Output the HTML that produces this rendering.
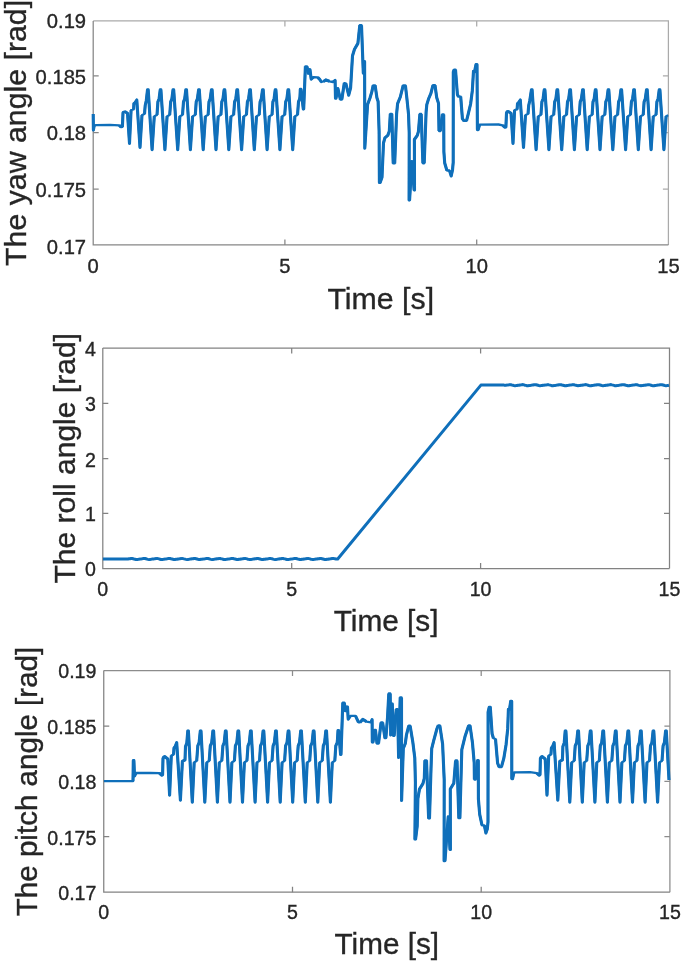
<!DOCTYPE html>
<html lang="en">
<head>
<meta charset="utf-8">
<title>Yaw, roll and pitch angles</title>
<style>
html,body{margin:0;padding:0;background:#fff;}
body{width:685px;height:964px;overflow:hidden;}
svg{display:block;filter:blur(0.3px);font-family:"Liberation Sans",sans-serif;}
text{stroke:#262626;stroke-width:0.35px;}
</style>
</head>
<body>
<svg width="685" height="964" viewBox="0 0 685 964">
<rect width="685" height="964" fill="#ffffff"/>
<g fill="none" stroke-width="1.25">
<path d="M93.2,20.9H668.4V244.9" stroke="#aaaaaa"/>
<path d="M284.9,20.9v5.5 M476.7,20.9v5.5 M668.4,75.8h-5.5 M668.4,132.6h-5.5 M668.4,189.2h-5.5" stroke="#aaaaaa"/>
<path d="M93.2,20.9V244.9H668.4" stroke="#868686"/>
<path d="M284.9,244.9v-5.5 M476.7,244.9v-5.5 M93.2,75.8h5.5 M93.2,132.6h5.5 M93.2,189.2h5.5" stroke="#868686"/>
</g>
<g fill="none" stroke="#0f6fba" stroke-linejoin="round" stroke-linecap="butt"><polyline points="93.2,114.0 93.4,130.0 94.2,125.6 96.0,125.1 110.0,124.9 119.2,125.3 121.2,127.2 122.4,126.9 123.0,113.0 123.6,111.8 124.8,111.5 127.5,113.2 129.5,143.4 131.1,110.0 133.6,109.4 133.9,103.7 134.9,102.8 136.8,100.0 140.0,147.4 142.0,115.0 144.5,114.0 145.2,105.5 146.3,100.5 147.5,89.9 148.2,89.9 152.1,149.7 154.3,116.2 157.0,115.0 157.9,101.8 159.1,98.8 160.2,89.9 160.9,89.9 164.9,149.7 167.1,116.2 169.7,115.0 170.7,101.8 171.9,98.8 173.0,89.9 173.7,89.9 177.7,149.7 179.9,116.2 182.5,115.0 183.5,101.8 184.7,98.8 185.8,89.9 186.5,89.9 190.4,149.7 192.6,116.2 195.3,115.0 196.2,101.8 197.4,98.8 198.6,89.9 199.3,89.9 203.2,149.7 205.4,116.2 208.1,115.0 209.0,101.8 210.2,98.8 211.4,89.9 212.1,89.9 216.0,149.7 218.2,116.2 220.9,115.0 221.8,101.8 223.0,98.8 224.1,89.9 224.8,89.9 228.8,149.7 231.0,116.2 233.6,115.0 234.6,101.8 235.8,98.8 236.9,89.9 237.6,89.9 241.6,149.7 243.8,116.2 246.4,115.0 247.4,101.8 248.6,98.8 249.7,89.9 250.4,89.9 254.3,149.7 256.5,116.2 259.2,115.0 260.1,101.8 261.3,98.8 262.5,89.9 263.2,89.9 267.1,149.7 269.3,116.2 272.0,115.0 272.9,101.8 274.1,98.8 275.2,89.9 275.9,89.9 279.9,149.7 282.1,116.2 284.7,115.0 285.7,101.8 286.9,98.8 288.0,89.9 288.7,89.9 292.7,149.7 294.9,116.2 297.5,115.0 298.5,101.8 299.7,98.8 300.0,96.3 300.3,89.4 301.0,89.4 303.3,109.0 303.7,109.0 305.4,66.4 307.0,66.4 308.2,73.3 309.5,69.6 310.0,69.8 311.2,79.1 313.4,77.2 317.7,77.4 319.5,79.2 321.4,82.0 323.5,81.5 325.8,79.9 329.4,81.3 333.1,82.0 335.1,80.5 335.5,98.1 336.0,98.1 337.9,88.6 340.4,99.6 341.8,99.6 344.3,83.1 345.8,83.3 348.7,95.2 350.6,87.9 352.5,55.8 354.5,49.2 357.9,43.4 359.8,25.2 361.5,25.2 363.3,73.3 364.6,61.6 364.8,148.2 367.6,104.5 370.0,98.0 371.8,91.9 373.2,85.3 375.1,85.3 376.9,97.7 378.1,101.4 379.1,131.3 379.4,182.4 380.2,182.4 382.0,177.3 383.5,143.0 384.9,137.9 387.8,135.4 389.3,131.3 390.3,113.8 391.8,113.8 393.2,163.4 394.7,163.4 396.6,113.8 397.6,103.6 400.3,97.0 403.2,85.3 405.4,85.3 406.8,97.7 408.5,113.8 409.2,132.8 409.1,200.0 409.6,200.0 411.9,161.5 414.1,190.0 414.5,190.0 414.4,139.5 417.3,135.4 418.4,131.6 419.9,114.0 421.2,114.0 422.9,163.3 424.2,163.3 426.1,112.0 426.8,104.6 428.7,98.5 430.9,93.4 433.0,85.2 435.0,85.2 436.7,97.5 438.5,103.4 439.0,131.0 440.3,131.0 442.3,114.4 443.7,114.4 443.9,152.0 444.7,163.0 446.9,170.5 449.5,170.5 451.2,176.0 452.5,170.0 453.2,162.4 453.3,72.0 454.1,69.7 455.5,69.7 457.4,94.5 458.5,96.7 460.7,96.7 462.4,118.6 463.9,120.8 466.5,120.8 468.2,114.2 470.6,104.0 472.3,90.9 473.5,71.2 474.5,71.9 476.0,64.6 477.0,64.6 477.4,129.6 478.2,129.6 479.6,124.7 498.6,124.5 502.7,125.3 504.7,127.2 505.9,126.9 506.5,113.0 507.1,111.8 508.3,111.5 511.0,113.2 513.0,143.4 514.6,110.0 517.1,109.4 517.5,103.7 518.4,102.8 520.3,100.0 523.5,147.4 525.5,115.0 528.0,114.0 528.7,105.5 529.8,100.5 531.4,89.9 532.1,89.9 536.1,149.7 538.3,116.2 540.9,115.0 541.9,101.8 543.1,98.8 544.2,89.9 544.9,89.9 548.9,149.7 551.1,116.2 553.7,115.0 554.7,101.8 555.9,98.8 557.0,89.9 557.7,89.9 561.7,149.7 563.9,116.2 566.5,115.0 567.5,101.8 568.7,98.8 569.8,89.9 570.5,89.9 574.4,149.7 576.6,116.2 579.3,115.0 580.2,101.8 581.4,98.8 582.6,89.9 583.3,89.9 587.2,149.7 589.4,116.2 592.1,115.0 593.0,101.8 594.2,98.8 595.3,89.9 596.0,89.9 600.0,149.7 602.2,116.2 604.8,115.0 605.8,101.8 607.0,98.8 608.1,89.9 608.8,89.9 612.8,149.7 615.0,116.2 617.6,115.0 618.6,101.8 619.8,98.8 620.9,89.9 621.6,89.9 625.6,149.7 627.8,116.2 630.4,115.0 631.4,101.8 632.6,98.8 633.7,89.9 634.4,89.9 638.3,149.7 640.5,116.2 643.2,115.0 644.1,101.8 645.3,98.8 646.5,89.9 647.2,89.9 651.1,149.7 653.3,116.2 656.0,115.0 656.9,101.8 658.1,98.8 659.2,89.9 659.9,89.9 663.9,149.7 666.1,116.2 668.2,115.2" stroke-width="2.3"/>
<polyline points="93.2,114.0 93.4,130.0 94.2,125.6" stroke-width="3.1"/>
<polyline points="119.2,125.3 121.2,127.2" stroke-width="3.1"/>
<polyline points="122.4,126.9 123.0,113.0 123.6,111.8" stroke-width="3.1"/>
<polyline points="124.8,111.5 127.5,113.2 129.5,143.4 131.1,110.0" stroke-width="3.1"/>
<polyline points="133.6,109.4 133.9,103.7 134.9,102.8 136.8,100.0 140.0,147.4 142.0,115.0" stroke-width="3.1"/>
<polyline points="144.5,114.0 145.2,105.5 146.3,100.5 147.5,89.9 148.2,89.9 152.1,149.7 154.3,116.2" stroke-width="3.1"/>
<polyline points="157.0,115.0 157.9,101.8 159.1,98.8 160.2,89.9 160.9,89.9 164.9,149.7 167.1,116.2" stroke-width="3.1"/>
<polyline points="169.7,115.0 170.7,101.8 171.9,98.8 173.0,89.9 173.7,89.9 177.7,149.7 179.9,116.2" stroke-width="3.1"/>
<polyline points="182.5,115.0 183.5,101.8 184.7,98.8 185.8,89.9 186.5,89.9 190.4,149.7 192.6,116.2" stroke-width="3.1"/>
<polyline points="195.3,115.0 196.2,101.8 197.4,98.8 198.6,89.9 199.3,89.9 203.2,149.7 205.4,116.2" stroke-width="3.1"/>
<polyline points="208.1,115.0 209.0,101.8 210.2,98.8 211.4,89.9 212.1,89.9 216.0,149.7 218.2,116.2" stroke-width="3.1"/>
<polyline points="220.9,115.0 221.8,101.8 223.0,98.8 224.1,89.9 224.8,89.9 228.8,149.7 231.0,116.2" stroke-width="3.1"/>
<polyline points="233.6,115.0 234.6,101.8 235.8,98.8 236.9,89.9 237.6,89.9 241.6,149.7 243.8,116.2" stroke-width="3.1"/>
<polyline points="246.4,115.0 247.4,101.8 248.6,98.8 249.7,89.9 250.4,89.9 254.3,149.7 256.5,116.2" stroke-width="3.1"/>
<polyline points="259.2,115.0 260.1,101.8 261.3,98.8 262.5,89.9 263.2,89.9 267.1,149.7 269.3,116.2" stroke-width="3.1"/>
<polyline points="272.0,115.0 272.9,101.8 274.1,98.8 275.2,89.9 275.9,89.9 279.9,149.7 282.1,116.2" stroke-width="3.1"/>
<polyline points="284.7,115.0 285.7,101.8 286.9,98.8 288.0,89.9 288.7,89.9 292.7,149.7 294.9,116.2" stroke-width="3.1"/>
<polyline points="297.5,115.0 298.5,101.8 299.7,98.8 300.0,96.3 300.3,89.4 301.0,89.4 303.3,109.0 303.7,109.0 305.4,66.4" stroke-width="3.1"/>
<polyline points="307.0,66.4 308.2,73.3 309.5,69.6 310.0,69.8 311.2,79.1 313.4,77.2" stroke-width="3.1"/>
<polyline points="317.7,77.4 319.5,79.2 321.4,82.0" stroke-width="3.1"/>
<polyline points="323.5,81.5 325.8,79.9 329.4,81.3" stroke-width="3.1"/>
<polyline points="333.1,82.0 335.1,80.5 335.5,98.1 336.0,98.1 337.9,88.6 340.4,99.6" stroke-width="3.1"/>
<polyline points="341.8,99.6 344.3,83.1" stroke-width="3.1"/>
<polyline points="345.8,83.3 348.7,95.2 350.6,87.9 352.5,55.8 354.5,49.2 357.9,43.4 359.8,25.2" stroke-width="3.1"/>
<polyline points="361.5,25.2 363.3,73.3 364.6,61.6 364.8,148.2 367.6,104.5 370.0,98.0 371.8,91.9 373.2,85.3" stroke-width="3.1"/>
<polyline points="375.1,85.3 376.9,97.7 378.1,101.4 379.1,131.3 379.4,182.4 380.2,182.4 382.0,177.3 383.5,143.0 384.9,137.9 387.8,135.4 389.3,131.3 390.3,113.8" stroke-width="3.1"/>
<polyline points="391.8,113.8 393.2,163.4" stroke-width="3.1"/>
<polyline points="394.7,163.4 396.6,113.8 397.6,103.6 400.3,97.0 403.2,85.3" stroke-width="3.1"/>
<polyline points="405.4,85.3 406.8,97.7 408.5,113.8 409.2,132.8 409.1,200.0 409.6,200.0 411.9,161.5 414.1,190.0 414.5,190.0 414.4,139.5 417.3,135.4 418.4,131.6 419.9,114.0" stroke-width="3.1"/>
<polyline points="421.2,114.0 422.9,163.3" stroke-width="3.1"/>
<polyline points="424.2,163.3 426.1,112.0 426.8,104.6 428.7,98.5 430.9,93.4 433.0,85.2" stroke-width="3.1"/>
<polyline points="435.0,85.2 436.7,97.5 438.5,103.4 439.0,131.0" stroke-width="3.1"/>
<polyline points="440.3,131.0 442.3,114.4" stroke-width="3.1"/>
<polyline points="443.7,114.4 443.9,152.0 444.7,163.0 446.9,170.5" stroke-width="3.1"/>
<polyline points="449.5,170.5 451.2,176.0 452.5,170.0 453.2,162.4 453.3,72.0 454.1,69.7" stroke-width="3.1"/>
<polyline points="455.5,69.7 457.4,94.5 458.5,96.7" stroke-width="3.1"/>
<polyline points="460.7,96.7 462.4,118.6 463.9,120.8" stroke-width="3.1"/>
<polyline points="466.5,120.8 468.2,114.2 470.6,104.0 472.3,90.9 473.5,71.2 474.5,71.9 476.0,64.6 477.0,64.6 477.4,129.6 478.2,129.6 479.6,124.7" stroke-width="3.1"/>
<polyline points="502.7,125.3 504.7,127.2 505.9,126.9 506.5,113.0 507.1,111.8 508.3,111.5 511.0,113.2 513.0,143.4 514.6,110.0" stroke-width="3.1"/>
<polyline points="517.1,109.4 517.5,103.7 518.4,102.8 520.3,100.0 523.5,147.4 525.5,115.0" stroke-width="3.1"/>
<polyline points="528.0,114.0 528.7,105.5 529.8,100.5 531.4,89.9 532.1,89.9 536.1,149.7 538.3,116.2" stroke-width="3.1"/>
<polyline points="540.9,115.0 541.9,101.8 543.1,98.8 544.2,89.9 544.9,89.9 548.9,149.7 551.1,116.2" stroke-width="3.1"/>
<polyline points="553.7,115.0 554.7,101.8 555.9,98.8 557.0,89.9 557.7,89.9 561.7,149.7 563.9,116.2" stroke-width="3.1"/>
<polyline points="566.5,115.0 567.5,101.8 568.7,98.8 569.8,89.9 570.5,89.9 574.4,149.7 576.6,116.2" stroke-width="3.1"/>
<polyline points="579.3,115.0 580.2,101.8 581.4,98.8 582.6,89.9 583.3,89.9 587.2,149.7 589.4,116.2" stroke-width="3.1"/>
<polyline points="592.1,115.0 593.0,101.8 594.2,98.8 595.3,89.9 596.0,89.9 600.0,149.7 602.2,116.2" stroke-width="3.1"/>
<polyline points="604.8,115.0 605.8,101.8 607.0,98.8 608.1,89.9 608.8,89.9 612.8,149.7 615.0,116.2" stroke-width="3.1"/>
<polyline points="617.6,115.0 618.6,101.8 619.8,98.8 620.9,89.9 621.6,89.9 625.6,149.7 627.8,116.2" stroke-width="3.1"/>
<polyline points="630.4,115.0 631.4,101.8 632.6,98.8 633.7,89.9 634.4,89.9 638.3,149.7 640.5,116.2" stroke-width="3.1"/>
<polyline points="643.2,115.0 644.1,101.8 645.3,98.8 646.5,89.9 647.2,89.9 651.1,149.7 653.3,116.2" stroke-width="3.1"/>
<polyline points="656.0,115.0 656.9,101.8 658.1,98.8 659.2,89.9 659.9,89.9 663.9,149.7 666.1,116.2" stroke-width="3.1"/></g>
<g font-size="20.2" fill="#262626">
<text x="93.2" y="272.5" text-anchor="middle">0</text>
<text x="284.9" y="272.5" text-anchor="middle">5</text>
<text x="476.7" y="272.5" text-anchor="middle">10</text>
<text x="668.4" y="272.5" text-anchor="middle">15</text>
<text x="86.1" y="28.2" text-anchor="end">0.19</text>
<text x="86.1" y="83.7" text-anchor="end">0.185</text>
<text x="86.1" y="140.0" text-anchor="end">0.18</text>
<text x="86.1" y="197.3" text-anchor="end">0.175</text>
<text x="86.1" y="254.0" text-anchor="end">0.17</text>
</g>
<text x="380.8" y="308.9" text-anchor="middle" font-size="30.3" fill="#262626">Time [s]</text>
<text transform="translate(26.3,132.9) rotate(-90)" text-anchor="middle" font-size="30.3" fill="#262626">The yaw angle [rad]</text>
<g fill="none" stroke-width="1.25">
<path d="M102.8,348.1H669.5V568.5" stroke="#828282"/>
<path d="M291.7,348.1v5.5 M480.6,348.1v5.5 M669.5,403.3h-5.5 M669.5,458.6h-5.5 M669.5,513.4h-5.5" stroke="#828282"/>
<path d="M102.8,348.1V568.5H669.5" stroke="#828282"/>
<path d="M291.7,568.5v-5.5 M480.6,568.5v-5.5 M102.8,403.3h5.5 M102.8,458.6h5.5 M102.8,513.4h5.5" stroke="#828282"/>
</g>
<g fill="none" stroke="#0f6fba" stroke-linejoin="round" stroke-linecap="butt"><polyline points="102.9,559.0 127.0,559.0 128.0,559.0 129.0,558.8 130.0,558.7 131.0,558.5 132.0,558.4 133.0,558.7 134.0,559.0 135.0,559.2 136.0,559.5 137.0,559.5 138.0,559.4 139.0,559.2 140.0,559.1 141.0,558.9 142.0,558.8 143.0,558.6 144.0,558.5 145.0,558.5 146.0,558.8 147.0,559.1 148.0,559.4 149.0,559.6 150.0,559.4 151.0,559.3 152.0,559.1 153.0,559.0 154.0,558.9 155.0,558.7 156.0,558.6 157.0,558.4 158.0,558.6 159.0,558.9 160.0,559.2 161.0,559.5 162.0,559.5 163.0,559.4 164.0,559.2 165.0,559.1 166.0,558.9 167.0,558.8 168.0,558.6 169.0,558.5 170.0,558.5 171.0,558.8 172.0,559.0 173.0,559.3 174.0,559.6 175.0,559.5 176.0,559.3 177.0,559.2 178.0,559.0 179.0,558.9 180.0,558.7 181.0,558.6 182.0,558.4 183.0,558.6 184.0,558.9 185.0,559.1 186.0,559.4 187.0,559.6 188.0,559.4 189.0,559.3 190.0,559.1 191.0,559.0 192.0,558.8 193.0,558.7 194.0,558.5 195.0,558.4 196.0,558.7 197.0,559.0 198.0,559.3 199.0,559.5 200.0,559.5 201.0,559.3 202.0,559.2 203.0,559.1 204.0,558.9 205.0,558.8 206.0,558.6 207.0,558.5 208.0,558.5 209.0,558.8 210.0,559.1 211.0,559.4 212.0,559.6 213.0,559.4 214.0,559.3 215.0,559.1 216.0,559.0 217.0,558.8 218.0,558.7 219.0,558.6 220.0,558.4 221.0,558.7 222.0,558.9 223.0,559.2 224.0,559.5 225.0,559.5 226.0,559.4 227.0,559.2 228.0,559.1 229.0,558.9 230.0,558.8 231.0,558.6 232.0,558.5 233.0,558.5 234.0,558.8 235.0,559.0 236.0,559.3 237.0,559.6 238.0,559.5 239.0,559.3 240.0,559.2 241.0,559.0 242.0,558.9 243.0,558.7 244.0,558.6 245.0,558.4 246.0,558.6 247.0,558.9 248.0,559.2 249.0,559.4 250.0,559.5 251.0,559.4 252.0,559.3 253.0,559.1 254.0,559.0 255.0,558.8 256.0,558.7 257.0,558.5 258.0,558.5 259.0,558.7 260.0,559.0 261.0,559.3 262.0,559.5 263.0,559.5 264.0,559.3 265.0,559.2 266.0,559.0 267.0,558.9 268.0,558.8 269.0,558.6 270.0,558.5 271.0,558.6 272.0,558.8 273.0,559.1 274.0,559.4 275.0,559.6 276.0,559.4 277.0,559.3 278.0,559.1 279.0,559.0 280.0,558.8 281.0,558.7 282.0,558.5 283.0,558.4 284.0,558.7 285.0,558.9 286.0,559.2 287.0,559.5 288.0,559.5 289.0,559.4 290.0,559.2 291.0,559.1 292.0,558.9 293.0,558.8 294.0,558.6 295.0,558.5 296.0,558.5 297.0,558.8 298.0,559.1 299.0,559.3 300.0,559.6 301.0,559.5 302.0,559.3 303.0,559.2 304.0,559.0 305.0,558.9 306.0,558.7 307.0,558.6 308.0,558.4 309.0,558.6 310.0,558.9 311.0,559.2 312.0,559.4 313.0,559.5 314.0,559.4 315.0,559.2 316.0,559.1 317.0,559.0 318.0,558.8 319.0,558.7 320.0,558.5 321.0,558.5 322.0,558.7 323.0,559.0 324.0,559.3 325.0,559.6 326.0,559.5 327.0,559.3 328.0,559.2 329.0,559.0 330.0,558.9 331.0,558.7 332.0,558.6 333.0,558.5 334.0,558.6 335.0,558.8 336.0,559.1 337.7,559.0 480.9,385.1 504.0,385.1 505.0,385.4 506.0,385.2 507.0,385.1 508.0,384.9 509.0,384.8 510.0,384.6 511.0,384.8 512.0,385.1 513.0,385.3 514.0,385.6 515.0,385.8 516.0,385.6 517.0,385.5 518.0,385.3 519.0,385.2 520.0,385.0 521.0,384.9 522.0,384.7 523.0,384.6 524.0,384.9 525.0,385.2 526.0,385.4 527.0,385.7 528.0,385.7 529.0,385.6 530.0,385.4 531.0,385.3 532.0,385.1 533.0,385.0 534.0,384.8 535.0,384.7 536.0,384.7 537.0,385.0 538.0,385.3 539.0,385.6 540.0,385.8 541.0,385.6 542.0,385.5 543.0,385.3 544.0,385.2 545.0,385.1 546.0,384.9 547.0,384.8 548.0,384.6 549.0,384.9 550.0,385.1 551.0,385.4 552.0,385.7 553.0,385.7 554.0,385.6 555.0,385.4 556.0,385.3 557.0,385.1 558.0,385.0 559.0,384.8 560.0,384.7 561.0,384.7 562.0,385.0 563.0,385.2 564.0,385.5 565.0,385.8 566.0,385.7 567.0,385.5 568.0,385.4 569.0,385.2 570.0,385.1 571.0,384.9 572.0,384.8 573.0,384.6 574.0,384.8 575.0,385.1 576.0,385.3 577.0,385.6 578.0,385.7 579.0,385.6 580.0,385.5 581.0,385.3 582.0,385.2 583.0,385.0 584.0,384.9 585.0,384.7 586.0,384.6 587.0,384.9 588.0,385.2 589.0,385.5 590.0,385.7 591.0,385.7 592.0,385.5 593.0,385.4 594.0,385.2 595.0,385.1 596.0,385.0 597.0,384.8 598.0,384.7 599.0,384.8 600.0,385.0 601.0,385.3 602.0,385.6 603.0,385.8 604.0,385.6 605.0,385.5 606.0,385.3 607.0,385.2 608.0,385.0 609.0,384.9 610.0,384.7 611.0,384.6 612.0,384.9 613.0,385.1 614.0,385.4 615.0,385.7 616.0,385.7 617.0,385.6 618.0,385.4 619.0,385.3 620.0,385.1 621.0,385.0 622.0,384.8 623.0,384.7 624.0,384.7 625.0,385.0 626.0,385.3 627.0,385.5 628.0,385.8 629.0,385.7 630.0,385.5 631.0,385.4 632.0,385.2 633.0,385.1 634.0,384.9 635.0,384.8 636.0,384.6 637.0,384.8 638.0,385.1 639.0,385.4 640.0,385.6 641.0,385.7 642.0,385.6 643.0,385.4 644.0,385.3 645.0,385.2 646.0,385.0 647.0,384.9 648.0,384.7 649.0,384.7 650.0,384.9 651.0,385.2 652.0,385.5 653.0,385.7 654.0,385.7 655.0,385.5 656.0,385.4 657.0,385.2 658.0,385.1 659.0,384.9 660.0,384.8 661.0,384.7 662.0,384.8 663.0,385.0 664.0,385.3 665.0,385.6 666.0,385.8 667.0,385.6 668.0,385.5 669.0,385.3" stroke-width="3.0"/></g>
<g font-size="19.6" fill="#262626">
<text x="102.8" y="595.5" text-anchor="middle">0</text>
<text x="291.7" y="595.5" text-anchor="middle">5</text>
<text x="480.6" y="595.5" text-anchor="middle">10</text>
<text x="669.5" y="595.5" text-anchor="middle">15</text>
<text x="95.8" y="355.9" text-anchor="end">4</text>
<text x="95.8" y="411.3" text-anchor="end">3</text>
<text x="95.8" y="466.9" text-anchor="end">2</text>
<text x="95.8" y="521.4" text-anchor="end">1</text>
<text x="95.8" y="576.2" text-anchor="end">0</text>
</g>
<text x="386.1" y="631.1" text-anchor="middle" font-size="29.8" fill="#262626">Time [s]</text>
<text transform="translate(74.6,458.3) rotate(-90)" text-anchor="middle" font-size="30.05" fill="#262626">The roll angle [rad]</text>
<g fill="none" stroke-width="1.25">
<path d="M103.75,670.6H669.9V892.2" stroke="#8c8c8c"/>
<path d="M292.5,670.6v5.5 M481.2,670.6v5.5 M669.9,726.0h-5.5 M669.9,781.3h-5.5 M669.9,836.5h-5.5" stroke="#8c8c8c"/>
<path d="M103.75,670.6V892.2H669.9" stroke="#828282"/>
<path d="M292.5,892.2v-5.5 M481.2,892.2v-5.5 M103.75,726.0h5.5 M103.75,781.3h5.5 M103.75,836.5h5.5" stroke="#828282"/>
</g>
<g fill="none" stroke="#0f6fba" stroke-linejoin="round" stroke-linecap="butt"><polyline points="103.9,781.2 133.0,781.2 133.3,760.5 133.9,760.5 134.5,776.0 136.0,773.0 150.0,772.9 159.4,773.1 161.6,775.2 162.6,774.8 163.0,758.5 163.7,757.1 164.7,756.6 167.8,759.0 169.6,795.2 171.3,755.6 173.5,754.6 174.0,748.0 175.2,746.5 176.7,742.6 180.4,800.2 182.4,761.3 185.0,759.9 185.5,746.5 186.8,743.0 187.8,731.0 188.4,731.0 192.3,802.2 194.2,762.3 196.7,761.0 197.8,745.8 199.1,742.6 200.3,731.0 201.0,731.0 204.8,802.2 206.8,762.3 209.2,761.0 210.3,745.8 211.7,742.6 212.9,731.0 213.6,731.0 217.4,802.2 219.3,762.3 221.8,761.0 222.9,745.8 224.2,742.6 225.4,731.0 226.1,731.0 230.0,802.2 231.9,762.3 234.4,761.0 235.4,745.8 236.8,742.6 238.0,731.0 238.7,731.0 242.5,802.2 244.4,762.3 246.9,761.0 248.0,745.8 249.3,742.6 250.5,731.0 251.2,731.0 255.1,802.2 257.0,762.3 259.5,761.0 260.5,745.8 261.9,742.6 263.1,731.0 263.8,731.0 267.6,802.2 269.5,762.3 272.0,761.0 273.1,745.8 274.4,742.6 275.6,731.0 276.3,731.0 280.2,802.2 282.1,762.3 284.6,761.0 285.6,745.8 287.0,742.6 288.2,731.0 288.9,731.0 292.7,802.2 294.6,762.3 297.1,761.0 298.2,745.8 299.5,742.6 300.7,731.0 301.4,731.0 305.3,802.2 307.2,762.3 309.7,761.0 310.7,745.8 312.1,742.6 313.3,731.0 314.0,731.0 317.8,802.2 319.7,762.3 322.2,761.0 323.3,745.8 324.6,742.6 325.8,731.0 326.5,731.0 330.4,802.2 332.3,762.3 334.8,761.0 335.8,745.8 337.2,742.6 337.5,739.2 338.0,730.6 338.6,730.6 340.6,754.5 341.0,754.5 342.8,702.6 344.3,702.6 345.3,710.7 346.5,707.0 347.5,707.0 348.2,719.1 350.4,715.8 355.5,715.8 358.5,722.3 360.0,722.3 362.8,719.4 366.5,721.6 370.9,722.3 372.1,719.7 372.3,742.0 373.0,742.0 374.7,730.4 375.5,730.4 377.0,743.5 378.5,743.5 381.1,722.5 382.6,722.5 384.9,737.7 385.9,737.7 387.5,718.0 388.8,693.5 390.2,693.5 390.7,735.0 391.5,704.0 392.3,704.0 393.4,735.5 394.2,735.5 396.3,709.2 397.6,709.2 398.6,757.5 400.2,697.4 401.5,697.4 401.6,800.4 403.3,748.5 405.3,743.5 406.4,735.2 408.8,725.7 410.1,725.7 412.8,741.9 414.8,758.1 415.4,782.3 414.9,839.0 415.6,839.0 417.2,826.0 417.9,798.5 419.5,789.1 422.9,783.7 424.3,778.3 424.9,760.3 426.5,760.3 428.6,818.0 429.5,818.0 431.0,768.9 431.7,748.7 433.7,740.6 437.0,728.5 438.3,725.4 439.8,725.4 442.6,744.1 444.2,779.6 444.1,860.7 445.0,860.7 448.2,816.9 450.0,849.5 450.4,849.5 450.3,789.0 453.8,783.3 455.6,760.5 457.0,760.5 458.8,817.8 459.9,817.8 461.8,749.7 465.0,736.6 468.7,725.4 470.0,725.4 472.4,742.2 474.2,762.8 474.4,779.6 475.6,779.6 477.6,760.6 478.3,760.6 478.4,799.0 479.7,814.4 482.0,825.3 484.3,825.3 485.9,833.0 487.3,829.0 488.0,822.0 488.1,712.0 489.2,707.3 490.3,707.3 492.1,733.8 493.4,738.2 495.5,739.0 497.6,763.1 499.1,767.0 501.4,767.0 503.8,758.4 506.1,744.4 507.7,728.9 508.4,709.4 509.5,709.4 510.7,701.2 511.7,701.2 511.8,778.6 512.6,778.6 513.9,772.4 530.0,772.1 536.8,773.1 539.0,775.2 540.0,774.8 540.4,758.5 541.1,757.1 542.1,756.6 545.2,759.0 547.0,795.2 548.7,755.6 550.9,754.6 551.4,748.0 552.6,746.5 554.1,742.6 557.8,800.2 559.8,761.3 562.4,759.9 562.9,746.5 564.2,743.0 565.2,731.0 565.9,731.0 569.8,802.2 571.7,762.3 574.2,761.0 575.2,745.8 576.6,742.6 577.8,731.0 578.5,731.0 582.3,802.2 584.2,762.3 586.7,761.0 587.8,745.8 589.1,742.6 590.3,731.0 591.0,731.0 594.9,802.2 596.8,762.3 599.3,761.0 600.3,745.8 601.7,742.6 602.9,731.0 603.6,731.0 607.4,802.2 609.3,762.3 611.8,761.0 612.9,745.8 614.2,742.6 615.4,731.0 616.1,731.0 620.0,802.2 621.9,762.3 624.4,761.0 625.4,745.8 626.8,742.6 628.0,731.0 628.7,731.0 632.5,802.2 634.4,762.3 636.9,761.0 638.0,745.8 639.3,742.6 640.5,731.0 641.2,731.0 645.1,802.2 647.0,762.3 649.5,761.0 650.5,745.8 651.9,742.6 653.1,731.0 653.8,731.0 657.6,802.2 659.5,762.3 662.0,761.0 663.1,745.8 664.4,742.6 665.6,731.0 666.3,731.0 669.0,780.0" stroke-width="2.3"/>
<polyline points="133.0,781.2 133.3,760.5 133.9,760.5 134.5,776.0 136.0,773.0" stroke-width="3.1"/>
<polyline points="159.4,773.1 161.6,775.2 162.6,774.8 163.0,758.5 163.7,757.1 164.7,756.6 167.8,759.0 169.6,795.2 171.3,755.6" stroke-width="3.1"/>
<polyline points="173.5,754.6 174.0,748.0 175.2,746.5 176.7,742.6 180.4,800.2 182.4,761.3 185.0,759.9 185.5,746.5 186.8,743.0 187.8,731.0 188.4,731.0 192.3,802.2 194.2,762.3" stroke-width="3.1"/>
<polyline points="196.7,761.0 197.8,745.8 199.1,742.6 200.3,731.0 201.0,731.0 204.8,802.2 206.8,762.3" stroke-width="3.1"/>
<polyline points="209.2,761.0 210.3,745.8 211.7,742.6 212.9,731.0 213.6,731.0 217.4,802.2 219.3,762.3" stroke-width="3.1"/>
<polyline points="221.8,761.0 222.9,745.8 224.2,742.6 225.4,731.0 226.1,731.0 230.0,802.2 231.9,762.3" stroke-width="3.1"/>
<polyline points="234.4,761.0 235.4,745.8 236.8,742.6 238.0,731.0 238.7,731.0 242.5,802.2 244.4,762.3" stroke-width="3.1"/>
<polyline points="246.9,761.0 248.0,745.8 249.3,742.6 250.5,731.0 251.2,731.0 255.1,802.2 257.0,762.3" stroke-width="3.1"/>
<polyline points="259.5,761.0 260.5,745.8 261.9,742.6 263.1,731.0 263.8,731.0 267.6,802.2 269.5,762.3" stroke-width="3.1"/>
<polyline points="272.0,761.0 273.1,745.8 274.4,742.6 275.6,731.0 276.3,731.0 280.2,802.2 282.1,762.3" stroke-width="3.1"/>
<polyline points="284.6,761.0 285.6,745.8 287.0,742.6 288.2,731.0 288.9,731.0 292.7,802.2 294.6,762.3" stroke-width="3.1"/>
<polyline points="297.1,761.0 298.2,745.8 299.5,742.6 300.7,731.0 301.4,731.0 305.3,802.2 307.2,762.3" stroke-width="3.1"/>
<polyline points="309.7,761.0 310.7,745.8 312.1,742.6 313.3,731.0 314.0,731.0 317.8,802.2 319.7,762.3" stroke-width="3.1"/>
<polyline points="322.2,761.0 323.3,745.8 324.6,742.6 325.8,731.0 326.5,731.0 330.4,802.2 332.3,762.3" stroke-width="3.1"/>
<polyline points="334.8,761.0 335.8,745.8 337.2,742.6 337.5,739.2 338.0,730.6 338.6,730.6 340.6,754.5 341.0,754.5 342.8,702.6" stroke-width="3.1"/>
<polyline points="344.3,702.6 345.3,710.7 346.5,707.0 347.5,707.0 348.2,719.1 350.4,715.8" stroke-width="3.1"/>
<polyline points="355.5,715.8 358.5,722.3" stroke-width="3.1"/>
<polyline points="360.0,722.3 362.8,719.4 366.5,721.6" stroke-width="3.1"/>
<polyline points="370.9,722.3 372.1,719.7 372.3,742.0 373.0,742.0 374.7,730.4 375.5,730.4 377.0,743.5" stroke-width="3.1"/>
<polyline points="378.5,743.5 381.1,722.5" stroke-width="3.1"/>
<polyline points="382.6,722.5 384.9,737.7 385.9,737.7 387.5,718.0 388.8,693.5" stroke-width="3.1"/>
<polyline points="390.2,693.5 390.7,735.0 391.5,704.0 392.3,704.0 393.4,735.5 394.2,735.5 396.3,709.2" stroke-width="3.1"/>
<polyline points="397.6,709.2 398.6,757.5 400.2,697.4" stroke-width="3.1"/>
<polyline points="401.5,697.4 401.6,800.4 403.3,748.5 405.3,743.5 406.4,735.2 408.8,725.7" stroke-width="3.1"/>
<polyline points="410.1,725.7 412.8,741.9 414.8,758.1 415.4,782.3 414.9,839.0 415.6,839.0 417.2,826.0 417.9,798.5 419.5,789.1 422.9,783.7 424.3,778.3 424.9,760.3" stroke-width="3.1"/>
<polyline points="426.5,760.3 428.6,818.0 429.5,818.0 431.0,768.9 431.7,748.7 433.7,740.6 437.0,728.5 438.3,725.4" stroke-width="3.1"/>
<polyline points="439.8,725.4 442.6,744.1 444.2,779.6 444.1,860.7 445.0,860.7 448.2,816.9 450.0,849.5 450.4,849.5 450.3,789.0 453.8,783.3 455.6,760.5" stroke-width="3.1"/>
<polyline points="457.0,760.5 458.8,817.8 459.9,817.8 461.8,749.7 465.0,736.6 468.7,725.4" stroke-width="3.1"/>
<polyline points="470.0,725.4 472.4,742.2 474.2,762.8 474.4,779.6" stroke-width="3.1"/>
<polyline points="475.6,779.6 477.6,760.6 478.3,760.6 478.4,799.0 479.7,814.4 482.0,825.3" stroke-width="3.1"/>
<polyline points="484.3,825.3 485.9,833.0 487.3,829.0 488.0,822.0 488.1,712.0 489.2,707.3 490.3,707.3 492.1,733.8 493.4,738.2" stroke-width="3.1"/>
<polyline points="495.5,739.0 497.6,763.1 499.1,767.0" stroke-width="3.1"/>
<polyline points="501.4,767.0 503.8,758.4 506.1,744.4 507.7,728.9 508.4,709.4 509.5,709.4 510.7,701.2 511.7,701.2 511.8,778.6 512.6,778.6 513.9,772.4" stroke-width="3.1"/>
<polyline points="536.8,773.1 539.0,775.2 540.0,774.8 540.4,758.5 541.1,757.1 542.1,756.6 545.2,759.0 547.0,795.2 548.7,755.6" stroke-width="3.1"/>
<polyline points="550.9,754.6 551.4,748.0 552.6,746.5 554.1,742.6 557.8,800.2 559.8,761.3 562.4,759.9 562.9,746.5 564.2,743.0 565.2,731.0 565.9,731.0 569.8,802.2 571.7,762.3" stroke-width="3.1"/>
<polyline points="574.2,761.0 575.2,745.8 576.6,742.6 577.8,731.0 578.5,731.0 582.3,802.2 584.2,762.3" stroke-width="3.1"/>
<polyline points="586.7,761.0 587.8,745.8 589.1,742.6 590.3,731.0 591.0,731.0 594.9,802.2 596.8,762.3" stroke-width="3.1"/>
<polyline points="599.3,761.0 600.3,745.8 601.7,742.6 602.9,731.0 603.6,731.0 607.4,802.2 609.3,762.3" stroke-width="3.1"/>
<polyline points="611.8,761.0 612.9,745.8 614.2,742.6 615.4,731.0 616.1,731.0 620.0,802.2 621.9,762.3" stroke-width="3.1"/>
<polyline points="624.4,761.0 625.4,745.8 626.8,742.6 628.0,731.0 628.7,731.0 632.5,802.2 634.4,762.3" stroke-width="3.1"/>
<polyline points="636.9,761.0 638.0,745.8 639.3,742.6 640.5,731.0 641.2,731.0 645.1,802.2 647.0,762.3" stroke-width="3.1"/>
<polyline points="649.5,761.0 650.5,745.8 651.9,742.6 653.1,731.0 653.8,731.0 657.6,802.2 659.5,762.3" stroke-width="3.1"/>
<polyline points="662.0,761.0 663.1,745.8 664.4,742.6 665.6,731.0 666.3,731.0 669.0,780.0" stroke-width="3.1"/></g>
<g font-size="19.6" fill="#262626">
<text x="103.8" y="919.3" text-anchor="middle">0</text>
<text x="292.5" y="919.3" text-anchor="middle">5</text>
<text x="481.2" y="919.3" text-anchor="middle">10</text>
<text x="669.9" y="919.3" text-anchor="middle">15</text>
<text x="96.4" y="677.5" text-anchor="end">0.19</text>
<text x="96.4" y="733.5" text-anchor="end">0.185</text>
<text x="96.4" y="789.2" text-anchor="end">0.18</text>
<text x="96.4" y="844.6" text-anchor="end">0.175</text>
<text x="96.4" y="899.9" text-anchor="end">0.17</text>
</g>
<text x="386.8" y="953.8" text-anchor="middle" font-size="29.7" fill="#262626">Time [s]</text>
<text transform="translate(37.2,781.5) rotate(-90)" text-anchor="middle" font-size="29.57" fill="#262626">The pitch angle [rad]</text>
</svg>
</body>
</html>
